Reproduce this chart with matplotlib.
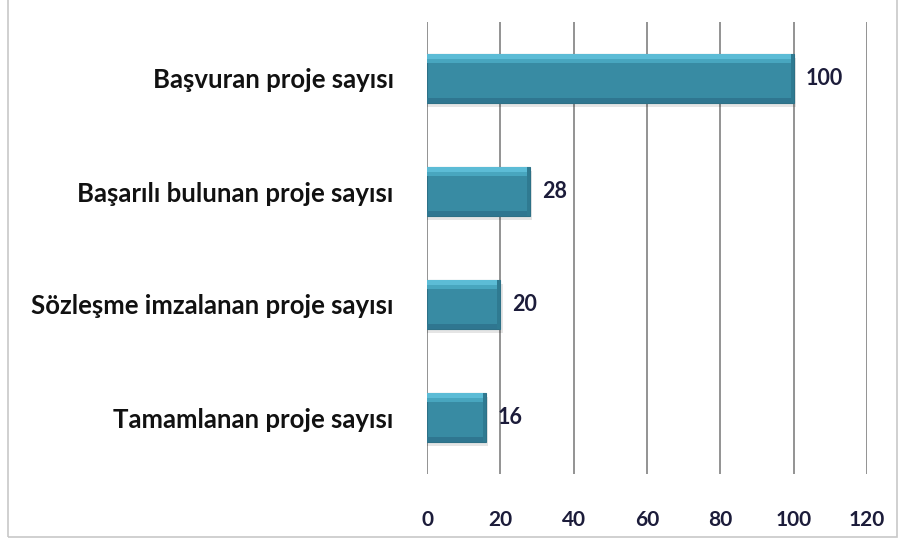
import matplotlib.pyplot as plt
from matplotlib.patches import Rectangle

# data
categories = ['Başvuran proje sayısı', 'Başarılı bulunan proje sayısı',
              'Sözleşme imzalanan proje sayısı', 'Tamamlanan proje sayısı']
values = [100, 28, 20, 16]
xticks = [0, 20, 40, 60, 80, 100, 120]

plt.rcParams['font.family'] = ['Lato', 'DejaVu Sans']
navy = '#1c1c3a'

fig = plt.figure(figsize=(9.01, 5.42), dpi=100)
ax = fig.add_axes([427 / 901, 1 - 474 / 542, 440 / 901, 452 / 542])

ypos = list(range(len(categories)))[::-1]
h = 0.43

# shadow under the bars
ax.barh([y - 0.035 for y in ypos], [v + 0.7 for v in values], height=h,
        color='#000000', alpha=0.10, zorder=2)
# main bars
ax.barh(ypos, values, height=h, color='#388BA3', edgecolor='#2d7086',
        linewidth=0.8, zorder=3)
# bevel: light strip on top, darker strip at bottom and right end
ax.barh([y + h / 2 - 0.025 for y in ypos], values, height=0.045,
        color='#5CBCD6', zorder=4)
ax.barh([y + h / 2 - 0.06 for y in ypos], values, height=0.03,
        color='#48A6BF', zorder=4)
ax.barh([y - h / 2 + 0.02 for y in ypos], values, height=0.04,
        color='#2f7690', zorder=4)
ax.barh(ypos, [0.8] * len(values), left=[v - 0.8 for v in values],
        height=h, color='#2f7a91', zorder=4)

for y, v in zip(ypos, values):
    ax.text(v + 3.3, y, str(v), va='center', ha='left', fontsize=15.5,
            fontweight='bold', color=navy, zorder=5)

ax.set_xlim(0, 120)
ax.set_ylim(-0.5, len(categories) - 0.5)
ax.set_xticks(xticks)
ax.set_xticklabels([str(t) for t in xticks], fontsize=15, fontweight='bold', color=navy)
ax.set_yticks(ypos)
ax.set_yticklabels(categories, fontsize=18.5, fontweight='bold', color='#111111')
ax.tick_params(axis='x', length=0, pad=26)
ax.tick_params(axis='y', length=0, pad=24)
ax.xaxis.grid(True, color='#808080', linewidth=1.2, zorder=0)
ax.set_axisbelow(True)
for s in ax.spines.values():
    s.set_visible(False)

# outer frame
fig.patches.append(Rectangle((8 / 901, 5 / 542), 889 / 901, 540 / 542,
                             transform=fig.transFigure, fill=False,
                             edgecolor='#c8c8c8', linewidth=1.2))

fig.savefig('out.png', dpi=100)
